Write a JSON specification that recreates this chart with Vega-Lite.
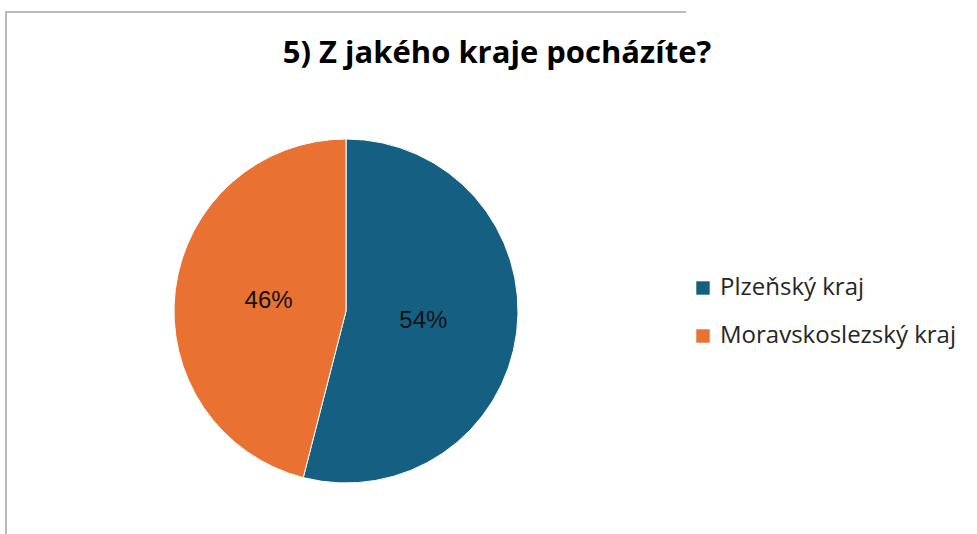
{
  "$schema": "https://vega.github.io/schema/vega-lite/v6.json",
  "autosize": "none",
  "width": 680,
  "height": 598,
  "padding": {"left": 6, "top": 12, "right": 291, "bottom": -76},
  "background": "white",
  "view": {"stroke": "#a6a6a6", "strokeWidth": 1.5, "strokeDash": [680, 1278, 598]},
  "title": {
    "text": "5) Z jakého kraje pocházíte?",
    "font": "Open Sans",
    "fontSize": 31,
    "fontWeight": "bold",
    "color": "#000000",
    "anchor": "middle",
    "frame": "group",
    "orient": "top",
    "offset": 0,
    "baseline": "alphabetic",
    "dx": 151,
    "dy": 82
  },
  "data": {
    "values": [
      {"kraj": "Plzeňský kraj", "share": 0.54},
      {"kraj": "Moravskoslezský kraj", "share": 0.46}
    ]
  },
  "encoding": {
    "theta": {"field": "share", "type": "quantitative", "stack": true},
    "order": {"field": "share", "type": "quantitative", "sort": "descending"}
  },
  "layer": [
    {
      "mark": {"type": "arc", "outerRadius": 172, "stroke": "white", "strokeWidth": 1},
      "encoding": {
        "color": {
          "field": "kraj",
          "type": "nominal",
          "scale": {"domain": ["Plzeňský kraj", "Moravskoslezský kraj"], "range": ["#156082", "#E97132"]},
          "legend": {
            "title": null,
            "orient": "none",
            "legendX": 685,
            "legendY": 264,
            "symbolType": "square",
            "symbolSize": 180,
            "symbolStrokeWidth": 0,
            "labelFont": "Open Sans",
            "labelFontSize": 24,
            "labelColor": "#262626",
            "labelOffset": 5,
            "rowPadding": 24,
            "labelLimit": 400
          }
        }
      }
    },
    {
      "mark": {"type": "text", "radius": 78, "font": "Liberation Sans", "fontSize": 24, "fill": "#111111"},
      "encoding": {"text": {"field": "share", "type": "quantitative", "format": ".0%"}}
    }
  ]
}
